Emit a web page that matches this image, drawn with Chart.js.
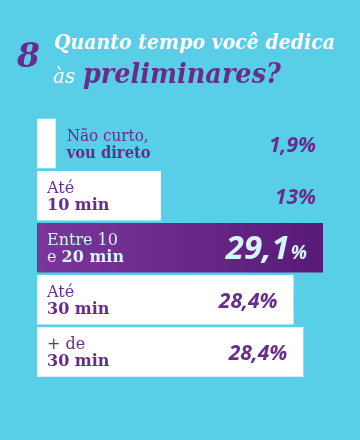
<!DOCTYPE html>
<html lang="pt-BR">
<head>
<meta charset="utf-8">
<script src="https://cdn.jsdelivr.net/npm/chart.js@4"></script>
<style>
    html, body { margin: 0; padding: 0; background: #58cfe6; }
    #chart { display: block; }
</style>
</head>
<body>
<canvas id="chart" width="360" height="440"></canvas>
<script>
// Category labels (two lines, second line bold)
const labelTop = ['Não curto,', 'Até', 'Entre 10', 'Até', '+ de'];
const labelBottomPlain = ['', '', 'e ', '', ''];
const labelBottom = ['vou direto', '10 min', '20 min', '30 min', '30 min'];

// Published percentages
const values = [1.9, 13, 29.1, 28.4, 28.4];
// Bar lengths as drawn in the reference (same units as values)
const barLengths = [1.9, 12.6, 29.1, 26.1, 27.1];

const highlightIndex = 2;

const PURPLE = '#6a2c8c';
const LIGHT = '#d6f3fa';
const SERIF = '"DejaVu Serif", serif';
const SANS = '"Open Sans", Lato, sans-serif';

function formatValue(v) {
    return String(v).replace('.', ',');
}

// Title, labels and values drawn over the bars
const textPlugin = {
    id: 'textPlugin',
    afterDatasetsDraw(chart) {
        const ctx = chart.ctx;
        const area = chart.chartArea;
        const meta = chart.getDatasetMeta(0);

        ctx.save();
        ctx.textBaseline = 'alphabetic';

        // Question number + title
        ctx.fillStyle = PURPLE;
        ctx.textAlign = 'left';
        ctx.font = 'bold italic 33px ' + SERIF;
        ctx.fillText('8', 17, 67, 24);

        ctx.fillStyle = '#ffffff';
        ctx.font = 'bold italic 20px ' + SERIF;
        ctx.fillText('Quanto tempo você dedica', 54, 49, 281);
        ctx.font = 'italic 20px ' + SERIF;
        ctx.fillText('às', 53, 83, 25);
        ctx.fillStyle = PURPLE;
        ctx.font = 'bold italic 28px ' + SERIF;
        ctx.fillText('preliminares?', 83, 83, 198);

        meta.data.forEach((bar, i) => {
            const cy = bar.y;
            const barW = bar.x - bar.base;
            const isHi = i === highlightIndex;
            const color = isHi ? LIGHT : PURPLE;
            const lx = barW < 60 ? bar.x + 11 : bar.base + 10;

            // category label
            ctx.fillStyle = color;
            ctx.textAlign = 'left';
            ctx.font = '16px ' + SERIF;
            ctx.fillText(labelTop[i], lx, cy - 3, 82);
            let x2 = lx;
            if (labelBottomPlain[i]) {
                ctx.fillText(labelBottomPlain[i], x2, cy + 14);
                x2 += ctx.measureText(labelBottomPlain[i]).width;
            }
            ctx.font = 'bold 16px ' + SERIF;
            ctx.fillText(labelBottom[i], x2, cy + 14, 84);

            // value label
            const vx = barW < 200 ? area.right - 7 : bar.x - 16;
            ctx.textAlign = 'right';
            if (isHi) {
                ctx.font = 'bold italic 19px ' + SANS;
                ctx.fillText('%', vx, cy + 11);
                const pw = ctx.measureText('%').width;
                ctx.font = 'bold italic 33px ' + SANS;
                ctx.fillText(formatValue(values[i]), vx - pw - 1, cy + 11);
            } else {
                ctx.font = 'bold italic 21px ' + SANS;
                ctx.fillText(formatValue(values[i]) + '%', vx, cy + 8);
            }
        });
        ctx.restore();
    }
};

const ctx = document.getElementById('chart').getContext('2d');
new Chart(ctx, {
    type: 'bar',
    data: {
        labels: labelTop.map((t, i) => t + ' ' + labelBottomPlain[i] + labelBottom[i]),
        datasets: [{
            data: barLengths,
            backgroundColor: (c) => {
                if (c.dataIndex !== highlightIndex) return '#ffffff';
                const area = c.chart.chartArea;
                if (!area) return PURPLE;
                const g = c.chart.ctx.createLinearGradient(area.left, 0, area.right, 0);
                g.addColorStop(0, '#7a379b');
                g.addColorStop(1, '#581a78');
                return g;
            },
            borderWidth: 0,
            barPercentage: 0.95,
            categoryPercentage: 1.0
        }]
    },
    options: {
        indexAxis: 'y',
        responsive: false,
        animation: false,
        layout: {
            padding: { left: 37, right: 37, top: 117.5, bottom: 62 }
        },
        scales: {
            x: { display: false, min: 0, max: 29.1 },
            y: { display: false }
        },
        plugins: {
            legend: { display: false },
            tooltip: { enabled: false }
        }
    },
    plugins: [textPlugin]
});
</script>
</body>
</html>
